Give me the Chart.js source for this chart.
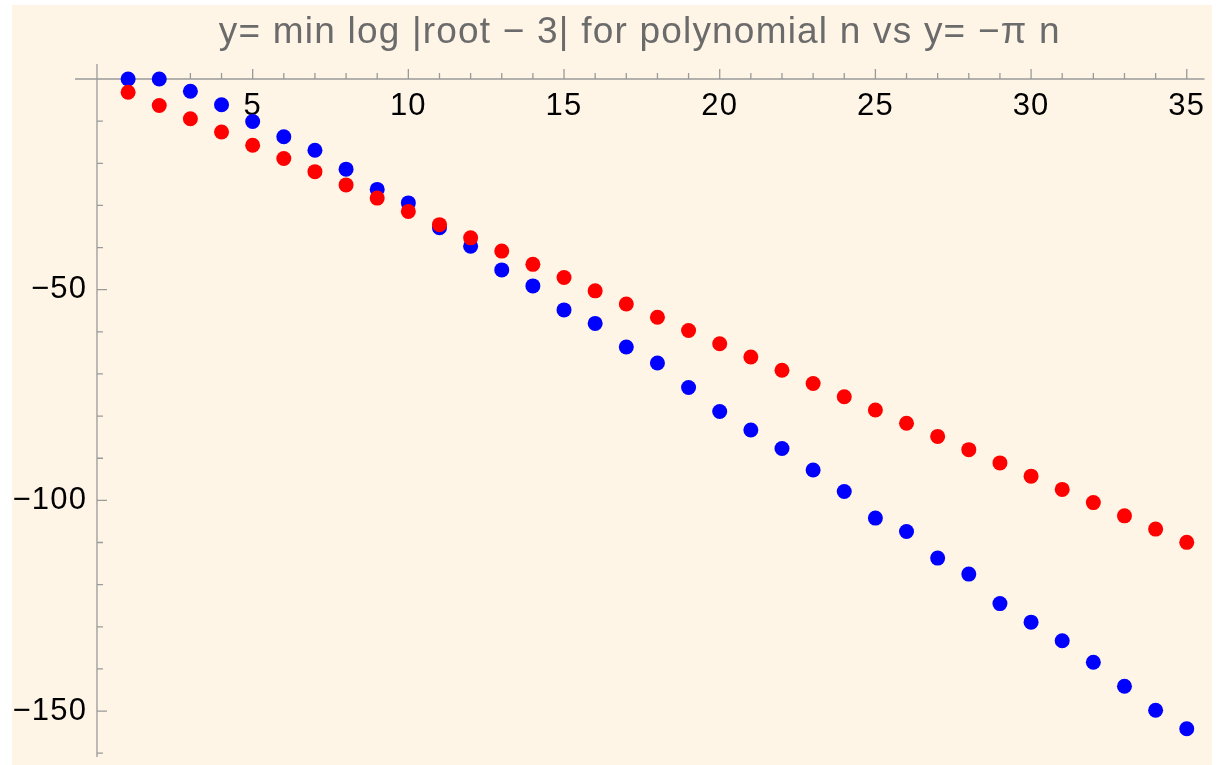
<!DOCTYPE html>
<html>
<head>
<meta charset="utf-8">
<script src="https://cdn.jsdelivr.net/npm/chart.js@4.4.1/dist/chart.umd.min.js"></script>
<style>
  html, body { margin: 0; padding: 0; background: #ffffff; }
  #frame {
    position: absolute; left: 12px; top: 5px;
    width: 1200px; height: 760px;
    background: #fef5e6;
  }
  canvas { display: block; }
</style>
</head>
<body>
<div id="frame"><canvas id="chart" width="1200" height="760"></canvas></div>
<script>
// Polynomial degree n
const degrees = [1, 2, 3, 4, 5, 6, 7, 8, 9, 10, 11, 12, 13, 14, 15, 16, 17, 18,
  19, 20, 21, 22, 23, 24, 25, 26, 27, 28, 29, 30, 31, 32, 33, 34, 35];

// min log |root - 3| (blue)
const minLogRoot = [0, 0, -2.9, -6.1, -10.1, -13.7, -16.9, -21.4, -26.2, -29.4,
  -35.3, -39.7, -45.3, -49.1, -54.8, -58.0, -63.6, -67.4, -73.2, -78.9,
  -83.3, -87.7, -92.8, -97.9, -104.2, -107.4, -113.7, -117.5, -124.5, -128.9,
  -133.3, -138.4, -144.1, -149.8, -154.2];

// y = -pi n (red)
const minusPiN = [-3.14, -6.28, -9.42, -12.57, -15.71, -18.85, -21.99, -25.13,
  -28.27, -31.42, -34.56, -37.70, -40.84, -43.98, -47.12, -50.27, -53.41,
  -56.55, -59.69, -62.83, -65.97, -69.12, -72.26, -75.40, -78.54, -81.68,
  -84.82, -87.96, -91.11, -94.25, -97.39, -100.53, -103.67, -106.81, -109.96];

// Tick labels and tick marks
const xTickLabels = [5, 10, 15, 20, 25, 30, 35];
const yTickLabels = [-50, -100, -150];
const xTickMarks = degrees;
const yTickMarks = [-10, -20, -30, -40, -50, -60, -70, -80, -90, -100, -110,
  -120, -130, -140, -150, -160];

const axisColor = '#9a9a9a';
const fontFamily = '"Liberation Sans", Arial, sans-serif';
const tickFont = { family: fontFamily, size: 31 };

function toPoints(ys) {
  return degrees.map((n, i) => ({ x: n, y: ys[i] }));
}

// real minus sign, plus a trailing space to keep the label off the axis
function formatYLabel(v) {
  return String(v).replace('-', '\u2212') + ' ';
}

// Mathematica-style text is a bit more spread out
const textSpacing = {
  id: 'textSpacing',
  beforeDraw(chart) { chart.ctx.letterSpacing = '1.2px'; },
  afterDraw(chart) { chart.ctx.letterSpacing = '0px'; }
};

// Axes through the origin with major/minor ticks
const originAxes = {
  id: 'originAxes',
  beforeDatasetsDraw(chart) {
    const { ctx, chartArea, scales: { x, y } } = chart;
    const x0 = x.getPixelForValue(0);
    const y0 = y.getPixelForValue(0);
    ctx.save();
    ctx.strokeStyle = axisColor;
    ctx.lineWidth = 1.3;
    ctx.beginPath();
    ctx.moveTo(chartArea.left, y0);
    ctx.lineTo(chartArea.right, y0);
    ctx.moveTo(x0, chartArea.top);
    ctx.lineTo(x0, chartArea.bottom);
    xTickMarks.forEach(v => {
      const px = x.getPixelForValue(v);
      const len = v % 5 === 0 ? 10 : 6;
      ctx.moveTo(px, y0);
      ctx.lineTo(px, y0 - len);
    });
    yTickMarks.forEach(v => {
      const py = y.getPixelForValue(v);
      const len = v % 50 === 0 ? 10 : 6;
      ctx.moveTo(x0, py);
      ctx.lineTo(x0 + len, py);
    });
    ctx.stroke();
    ctx.restore();
  }
};

function noEdgePadding(scale) {
  scale.paddingTop = 0;
  scale.paddingBottom = 0;
  scale.paddingLeft = 0;
  scale.paddingRight = 0;
}

const ctx = document.getElementById('chart').getContext('2d');

new Chart(ctx, {
  type: 'scatter',
  data: {
    datasets: [
      {
        label: 'y = -pi n',
        data: toPoints(minusPiN),
        backgroundColor: '#ff0000',
        pointRadius: 7.5,
        pointBorderWidth: 0,
        order: 0
      },
      {
        label: 'min log |root - 3|',
        data: toPoints(minLogRoot),
        backgroundColor: '#0000ff',
        pointRadius: 7.5,
        pointBorderWidth: 0,
        order: 1
      }
    ]
  },
  options: {
    responsive: false,
    animation: false,
    layout: { padding: { left: 63, right: 7, top: 0, bottom: 8 } },
    scales: {
      x: {
        type: 'linear',
        position: { y: 0 },
        min: -0.706,
        max: 35.57,
        afterBuildTicks: scale => { scale.ticks = xTickLabels.map(v => ({ value: v })); },
        afterFit: noEdgePadding,
        grid: { display: false, drawTicks: false },
        border: { display: false },
        ticks: { color: '#000000', font: tickFont, padding: 9, maxRotation: 0, callback: v => String(v) }
      },
      y: {
        type: 'linear',
        position: { x: 0 },
        min: -160.9,
        max: 3.56,
        afterBuildTicks: scale => { scale.ticks = yTickLabels.map(v => ({ value: v })); },
        afterFit: noEdgePadding,
        grid: { display: false, drawTicks: false },
        border: { display: false },
        ticks: { color: '#000000', font: tickFont, callback: v => formatYLabel(v) }
      }
    },
    plugins: {
      legend: { display: false },
      tooltip: { enabled: false },
      title: {
        display: true,
        fullSize: false,
        text: 'y= min log |root \u2212 3| for polynomial n vs y= \u2212\u03c0 n',
        color: '#6b6b6b',
        font: { family: fontFamily, size: 37, weight: 'normal' },
        padding: { top: 6, bottom: 8.6 }
      }
    }
  },
  plugins: [textSpacing, originAxes]
});
</script>
</body>
</html>
